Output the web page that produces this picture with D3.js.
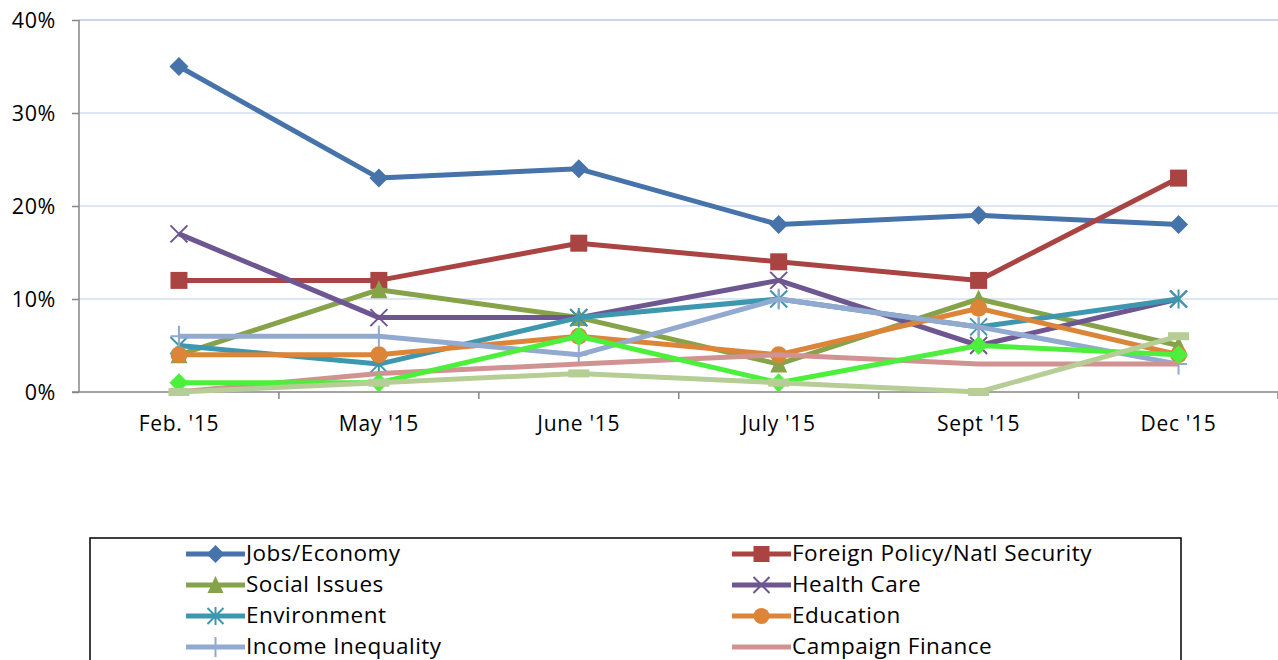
<!DOCTYPE html>
<html><head><meta charset="utf-8">
<script src="https://cdn.jsdelivr.net/npm/d3@7"></script>
<style>html,body{margin:0;padding:0;background:#fff;overflow:hidden}</style>
</head><body>
<svg id="c" width="1278" height="660"></svg>
<script>
const categories = ["Feb. '15", "May '15", "June '15", "July '15", "Sept '15", "Dec '15"];
const yTicks = [0, 0.1, 0.2, 0.3, 0.4];
const seriesNames = ["Jobs/Economy", "Foreign Policy/Natl Security", "Social Issues", "Health Care", "Environment", "Education", "Income Inequality", "Campaign Finance", "", ""];
const jobsEconomy = [0.35, 0.23, 0.24, 0.18, 0.19, 0.18];
const foreignPolicy = [0.12, 0.12, 0.16, 0.14, 0.12, 0.23];
const socialIssues = [0.04, 0.11, 0.08, 0.03, 0.10, 0.05];
const healthCare = [0.17, 0.08, 0.08, 0.12, 0.05, 0.10];
const environment = [0.05, 0.03, 0.08, 0.10, 0.07, 0.10];
const education = [0.04, 0.04, 0.06, 0.04, 0.09, 0.04];
const incomeInequality = [0.06, 0.06, 0.04, 0.10, 0.07, 0.03];
const campaignFinance = [0.00, 0.02, 0.03, 0.04, 0.03, 0.03];
const series9 = [0.01, 0.01, 0.06, 0.01, 0.05, 0.04];
const series10 = [0.00, 0.01, 0.02, 0.01, 0.00, 0.06];
const seriesValues = [jobsEconomy, foreignPolicy, socialIssues, healthCare, environment, education, incomeInequality, campaignFinance, series9, series10];
const colors = ["#4673AA", "#A94442", "#87A34A", "#6E5690", "#3D97AE", "#DC8438", "#92A9D0", "#D19392", "#4CEF3C", "#B7CD96"];
const markers = ["diamond", "square", "triangle", "x", "star", "circle", "plus", "none", "diamond", "dash"];

const FONT = "'Open Sans', Lato, sans-serif";
const svg = d3.select("#c");
const L = 79, R = 1278, T = 20, B = 392;
const x = d3.scaleBand().domain(categories).range([L, R + 0.5]);
const y = d3.scaleLinear().domain([0, 0.4]).range([B, T]);
const cx = c => x(c) + x.bandwidth() / 2;

// gridlines
svg.append("g").selectAll("line").data(yTicks.filter(t => t > 0)).join("line")
  .attr("x1", L).attr("x2", R).attr("y1", d => y(d)).attr("y2", d => y(d))
  .attr("stroke", d => d === 0.4 ? "#B7C8E6" : "#D3DCEF").attr("stroke-width", 1.3);

// y axis
const yAxis = d3.axisLeft(y).tickValues(yTicks).tickFormat(d3.format(".0%")).tickSize(7).tickPadding(16);
const ga = svg.append("g").attr("transform", `translate(${L},0)`).call(yAxis);
ga.select(".domain").attr("stroke", "#868686").attr("stroke-width", 1.5).attr("d", `M0,${T}V${B}`);
ga.selectAll(".tick line").attr("stroke", "#868686").attr("stroke-width", 1.5);
ga.selectAll("text").attr("font-family", FONT).attr("font-size", 21.5).attr("letter-spacing", 0.6).attr("fill", "#000").attr("dy", "0.36em");

// x axis
const xAxis = d3.axisBottom(x).tickSize(0).tickPadding(24);
const gx = svg.append("g").attr("transform", `translate(0,${B})`).call(xAxis);
gx.select(".domain").attr("stroke", "#868686").attr("stroke-width", 1.5).attr("d", `M${L - 7},0H${R}`);
gx.selectAll("text").attr("font-family", FONT).attr("font-size", 21).attr("letter-spacing", 0.7).attr("fill", "#000");
const bounds = categories.map(c => x(c)).concat([R]);
svg.append("g").selectAll("line").data(bounds.slice(1)).join("line")
  .attr("x1", d => d).attr("x2", d => d).attr("y1", B).attr("y2", B + 7)
  .attr("stroke", "#868686").attr("stroke-width", 1.5);

function drawMarker(g, type, color, px, py, s) {
  const h = s / 2;
  if (type === "diamond") {
    g.append("path").attr("d", `M${px},${py - h - 1}L${px + h + 1},${py}L${px},${py + h + 1}L${px - h - 1},${py}Z`).attr("fill", color);
  } else if (type === "square") {
    g.append("rect").attr("x", px - h).attr("y", py - h).attr("width", s).attr("height", s).attr("fill", color);
  } else if (type === "triangle") {
    g.append("path").attr("d", `M${px},${py - h - 1}L${px + h},${py + h}L${px - h},${py + h}Z`).attr("fill", color);
  } else if (type === "circle") {
    g.append("circle").attr("cx", px).attr("cy", py).attr("r", h).attr("fill", color);
  } else if (type === "x") {
    g.append("path").attr("d", `M${px - h},${py - h}L${px + h},${py + h}M${px - h},${py + h}L${px + h},${py - h}`).attr("stroke", color).attr("stroke-width", 2);
  } else if (type === "star") {
    g.append("path").attr("d", `M${px - h},${py - h}L${px + h},${py + h}M${px - h},${py + h}L${px + h},${py - h}M${px},${py - h - 1}L${px},${py + h + 1}`).attr("stroke", color).attr("stroke-width", 2);
  } else if (type === "plus") {
    g.append("path").attr("d", `M${px},${py - h - 2}L${px},${py + h + 2}M${px - h},${py}L${px + h},${py}`).attr("stroke", color).attr("stroke-width", 2);
  } else if (type === "dash") {
    g.append("rect").attr("x", px - h - 2).attr("y", py - 4).attr("width", s + 4).attr("height", 8).attr("fill", color);
  }
}

const line = d3.line().x((d, i) => cx(categories[i])).y(d => y(d));
seriesValues.forEach((vals, si) => {
  const g = svg.append("g");
  g.append("path").datum(vals).attr("d", line).attr("fill", "none")
    .attr("stroke", colors[si]).attr("stroke-width", 5).attr("stroke-linejoin", "round");
  vals.forEach((v, i) => drawMarker(g, markers[si], colors[si], cx(categories[i]), y(v), 17));
});

// legend
const lg = svg.append("g");
lg.append("rect").attr("x", 90).attr("y", 538).attr("width", 1091).attr("height", 140)
  .attr("fill", "#fff").attr("stroke", "#000").attr("stroke-width", 1.5);
const legendItems = seriesNames.slice(0, 8);
legendItems.forEach((name, i) => {
  const col = i % 2, row = Math.floor(i / 2);
  const lx = col === 0 ? 186 : 732, ly = 554 + row * 31;
  lg.append("line").attr("x1", lx).attr("x2", lx + 59).attr("y1", ly).attr("y2", ly)
    .attr("stroke", colors[i]).attr("stroke-width", 5);
  drawMarker(lg, markers[i], colors[i], lx + 29.5, ly, 16);
  lg.append("text").attr("x", lx + 60).attr("y", ly).attr("dy", "0.33em")
    .attr("font-family", FONT).attr("font-size", 22.5).attr("letter-spacing", 0.5).attr("fill", "#000").text(name);
});
</script>
</body></html>
